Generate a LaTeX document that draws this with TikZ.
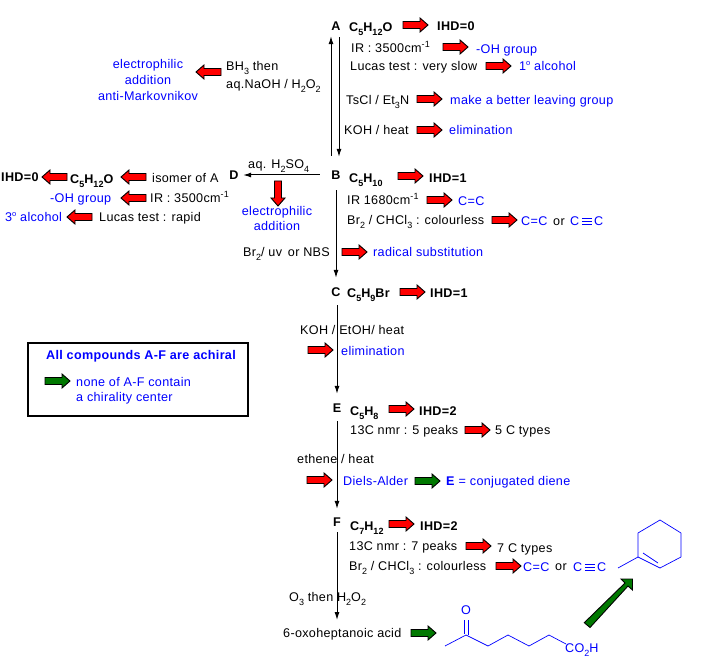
\documentclass[tikz,border=0pt]{standalone}
\usepackage{fontspec}
\setmainfont[LetterSpace=2.5]{Liberation Sans}
\usetikzlibrary{arrows.meta}
\definecolor{inkblue}{RGB}{0,0,255}
\definecolor{fatred}{RGB}{255,0,0}
\definecolor{fatgreen}{RGB}{0,120,0}
\newcommand{\bodyfont}{\fontsize{12.6}{15}\selectfont}
\newcommand{\sbs}[1]{\raisebox{-0.32em}{\fontsize{9}{10}\selectfont #1}}
\newcommand{\sps}[1]{\raisebox{0.42em}{\fontsize{9}{10}\selectfont #1}}
\newcommand{\dg}{\raisebox{0.42em}{\fontsize{7.5}{8}\selectfont o}}
\newcommand{\triplebond}{\tikz[baseline=0pt,x=1pt,y=1pt]{\draw[inkblue,line width=.7pt] (0,1.2)--(10,1.2) (0,4.2)--(10,4.2) (0,7.2)--(10,7.2);}}
\tikzset{
  x=1pt,y=-1pt,
  every node/.style={inner sep=0pt,font=\bodyfont},
  txt/.style={anchor=base west,text=black,yshift=-0.8pt},
  blue/.style={anchor=base west,text=inkblue,yshift=-0.8pt},
  cblue/.style={anchor=base,text=inkblue,yshift=-0.8pt},
  bold/.style={anchor=base west,text=black,yshift=-0.8pt,font=\bodyfont\bfseries},
  letter/.style={anchor=center,text=black,minimum width=14pt,minimum height=20pt,font=\bodyfont\bfseries},
  rxn/.style={draw=black,line width=1pt,-{Latex[length=8pt,width=5pt]}},
  pics/fatarrow/.style={code={
    \path[draw=black,line width=.9pt,fill=#1]
      (0,-3.5)--(17,-3.5)--(17,-7)--(25,0)--(17,7)--(17,3.5)--(0,3.5)--cycle;}},
  skeleton/.style={draw=inkblue,line width=.7pt,line join=round}
}
\begin{document}
\begin{tikzpicture}
\useasboundingbox (0,0) rectangle (704,660);

% compound letters on the main sequence
\node[letter] (A) at (336,26) {A};
\node[letter] (B) at (336,175) {B};
\node[letter] (C) at (336,292) {C};
\node[letter] (D) at (234,175) {D};
\node[letter] (E) at (337,408) {E};
\node[letter] (F) at (337,522) {F};
\coordinate (acidtop) at (337,620);

% reaction arrows
\draw[rxn,shorten <=1pt,shorten >=8pt] ([xshift=3pt]A.south) -- ([xshift=3pt]B.north);
\draw[rxn,shorten <=9pt] ([xshift=-5pt]B.north) -- ([xshift=-5pt]A.south);
\draw[rxn,shorten <=9pt,shorten >=2pt] (B.west) -- (D.east);
\draw[rxn,shorten <=5pt,shorten >=4pt] (B.south) -- (C.north);
\draw[rxn,shorten <=3pt,shorten >=4pt] ([xshift=1pt]C.south) -- (E.north);
\draw[rxn,shorten <=3pt,shorten >=3pt] (E.south) -- (F.north);
\draw[rxn] (F.south) -- (acidtop);

% compound A
\node[bold] (fA) at (349,31) {C\sbs{5}H\sbs{12}O};
\pic at (403,25) {fatarrow=fatred};
\node[bold] (iA) at (437,30) {IHD=0};
\node[txt] (t1) at (351,52) {IR : 3500cm\sps{-1}};
\pic at (443,47) {fatarrow=fatred};
\node[blue] (t2) at (476,53) {-OH group};
\node[txt] (t3) at (350,70) {Lucas test : very slow};
\pic at (486,66) {fatarrow=fatred};
\node[blue] (t4) at (519,70) {1\dg{} alcohol};
\node[txt] (t5) at (346,104) {TsCl / Et\sbs{3}N};
\pic at (417,99) {fatarrow=fatred};
\node[blue] (t6) at (450,104) {make a better leaving group};
\node[txt] (t7) at (344,134) {KOH / heat};
\pic at (417,130) {fatarrow=fatred};
\node[blue] (t8) at (449,134) {elimination};

% hydroboration of B back to A
\node[txt] (t9) at (226,70) {BH\sbs{3} then};
\node[txt] (t10) at (226,88) {aq.NaOH / H\sbs{2}O\sbs{2}};
\pic[rotate=180] at (221,72) {fatarrow=fatred};
\node[cblue] (t11) at (148,68) {electrophilic};
\node[cblue] (t12) at (148,84) {addition};
\node[cblue] (t13) at (148,100) {anti-Markovnikov};

% hydration of B to D
\node[txt] (t14) at (248,168) {aq. H\sbs{2}SO\sbs{4}};
\pic[rotate=-90] at (278,181) {fatarrow=fatred};
\node[cblue] (t15) at (277,215) {electrophilic};
\node[cblue] (t16) at (277,230) {addition};

% compound D
\node[txt] (t17) at (152,182) {isomer of A};
\pic[rotate=180] at (146,177) {fatarrow=fatred};
\node[bold] (fD) at (70,183) {C\sbs{5}H\sbs{12}O};
\pic[rotate=180] at (67,177) {fatarrow=fatred};
\node[bold] (iD) at (1,181) {IHD=0};
\node[blue] (t18) at (50,202) {-OH group};
\pic[rotate=180] at (146,198) {fatarrow=fatred};
\node[txt] (t19) at (150,202) {IR : 3500cm\sps{-1}};
\node[blue] (t20) at (5,221) {3\dg{} alcohol};
\pic[rotate=180] at (92,217) {fatarrow=fatred};
\node[txt] (t21) at (99,221) {Lucas test : rapid};

% compound B
\node[bold] (fB) at (349,182) {C\sbs{5}H\sbs{10}};
\pic at (398,176) {fatarrow=fatred};
\node[bold] (iB) at (429,182) {IHD=1};
\node[txt] (t22) at (347,204) {IR 1680cm\sps{-1}};
\pic at (427,200) {fatarrow=fatred};
\node[blue] (t23) at (458,205) {C=C};
\node[txt] (t24) at (347,224) {Br\sbs{2} / CHCl\sbs{3} : colourless};
\pic at (492,220) {fatarrow=fatred};
\node[blue] (t25) at (521,225) {C=C};
\node[txt] (t26) at (553,225) {or};
\node[blue] (t27) at (570,225) {C\,\triplebond\,C};
\node[txt] (t28) at (243,256) {Br\sbs{2}/ uv\, or NBS};
\pic at (342,252) {fatarrow=fatred};
\node[blue] (t29) at (373,256) {radical substitution};

% compound C
\node[bold] (fC) at (347,297) {C\sbs{5}H\sbs{9}Br};
\pic at (400,292) {fatarrow=fatred};
\node[bold] (iC) at (430,297) {IHD=1};
\node[txt] (t30) at (300,334) {KOH / EtOH/ heat};
\pic at (308,350) {fatarrow=fatred};
\node[blue] (t31) at (341,355) {elimination};

% note on chirality
\node[draw=black,line width=1.5pt,minimum width=220pt,minimum height=73pt,anchor=north west] (note) at (27,342) {};
\node[anchor=base west,text=inkblue,yshift=-0.8pt,font=\bodyfont\bfseries] (n1) at (46,359) {All compounds A-F are achiral};
\pic at (45,381) {fatarrow=fatgreen};
\node[blue] (n2) at (76,386) {none of A-F contain};
\node[blue] (n3) at (76,401) {a chirality center};

% compound E
\node[bold] (fE) at (350,415) {C\sbs{5}H\sbs{8}};
\pic at (389,409) {fatarrow=fatred};
\node[bold] (iE) at (419,415) {IHD=2};
\node[txt] (t32) at (350,434) {13C nmr : 5 peaks};
\pic at (465,430) {fatarrow=fatred};
\node[txt] (t33) at (495,434) {5 C types};
\node[txt] (t34) at (297,463) {ethene / heat};
\pic at (307,480) {fatarrow=fatred};
\node[blue] (t35) at (343,485) {Diels-Alder};
\pic at (415,481) {fatarrow=fatgreen};
\node[blue] (t36) at (446,485) {\textbf{E} = conjugated diene};

% compound F
\node[bold] (fF) at (350,530) {C\sbs{7}H\sbs{12}};
\pic at (389,524) {fatarrow=fatred};
\node[bold] (iF) at (420,530) {IHD=2};
\node[txt] (t37) at (349,550) {13C nmr : 7 peaks};
\pic at (466,546) {fatarrow=fatred};
\node[txt] (t38) at (497,552) {7 C types};
\node[txt] (t39) at (349,570) {Br\sbs{2} / CHCl\sbs{3} : colourless};
\pic at (496,566) {fatarrow=fatred};
\node[blue] (t40) at (523,571) {C=C};
\node[txt] (t41) at (555,570) {or};
\node[blue] (t42) at (573,571) {C\,\triplebond\,C};
\node[txt] (t43) at (289,601) {O\sbs{3} then H\sbs{2}O\sbs{2}};
\node[txt] (t44) at (283,637) {6-oxoheptanoic acid};
\pic at (411,633) {fatarrow=fatgreen};

% 6-oxoheptanoic acid skeleton
\node[anchor=center,text=inkblue] (oxy) at (466,610) {O};
\node[blue] (acid) at (565,652) {CO\sbs{2}H};
\draw[skeleton] (445,646) -- (466,635) -- (488,646) -- (508,635) -- (529,646) -- (549,635) -- (566,644);
\draw[skeleton] (464.7,620) -- (464.7,634) (468,620) -- (468,635);

% diagonal arrow between the two structures
\path[draw=black,line width=.9pt,fill=fatgreen]
  (584.3,622.7) -- (625,583) -- (621,579) -- (632.5,579) -- (632.5,590) -- (628,586) -- (590,627.5) -- cycle;

% 1-methylcyclohexene skeleton
\draw[skeleton] (638,533) -- (660,520) -- (681,533) -- (681,557) -- (660,568) -- (638,557) -- cycle;
\draw[skeleton] (638,557) -- (618,568);
\draw[skeleton] (643,553) -- (658,563);
\end{tikzpicture}
\end{document}
